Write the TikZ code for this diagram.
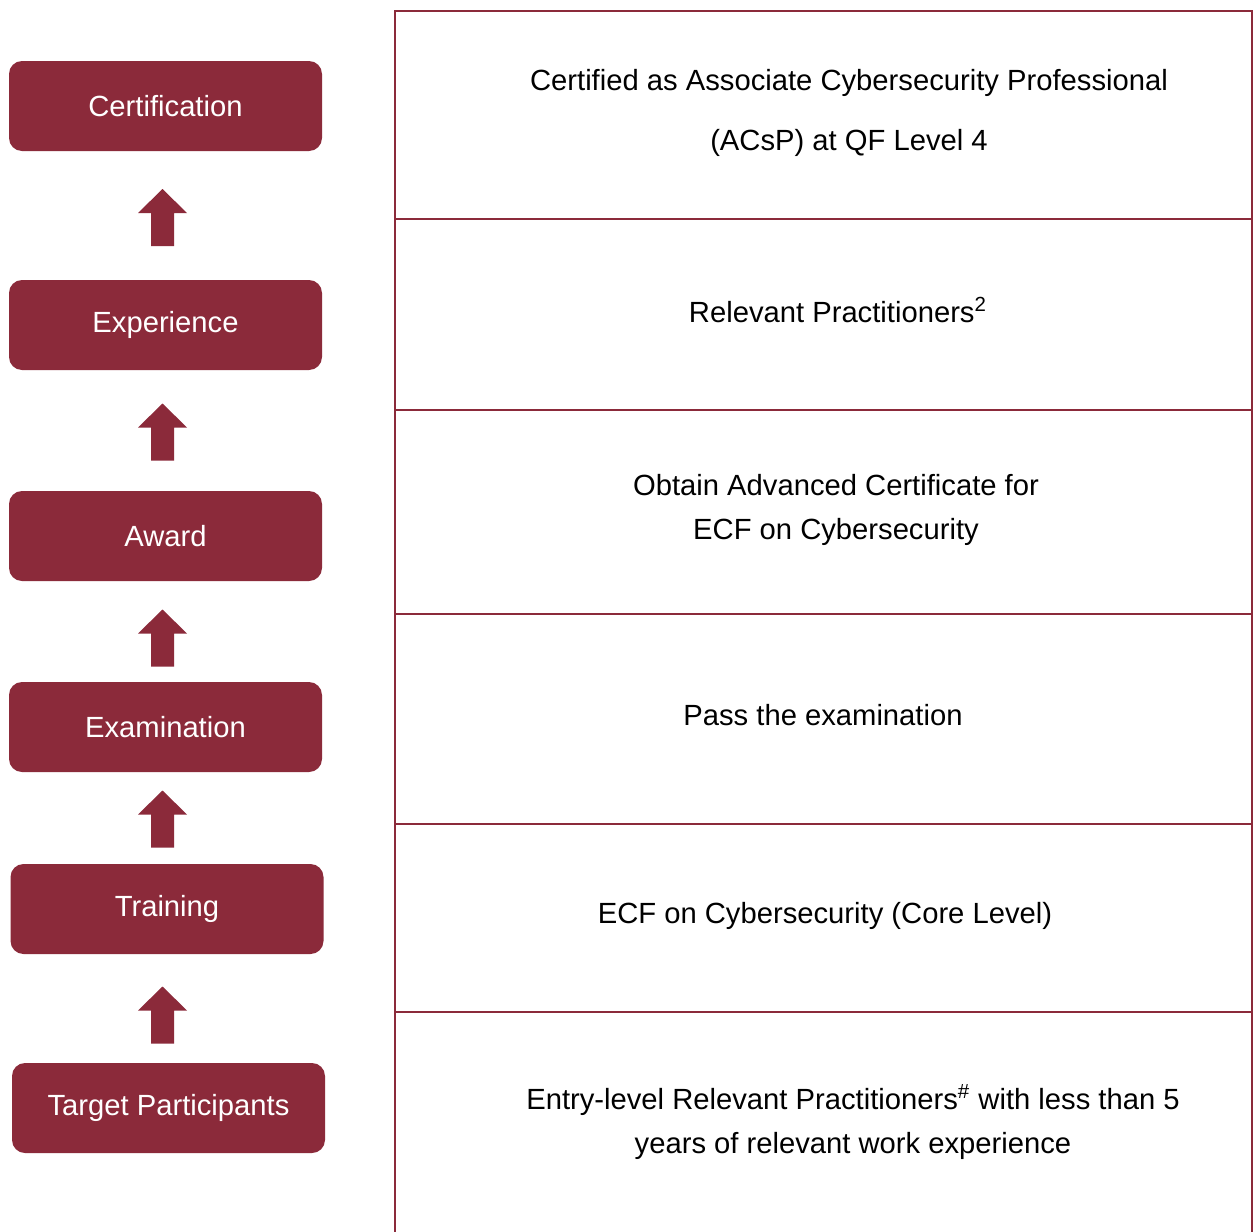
\documentclass[tikz,border=0pt]{standalone}
\usepackage{fontspec}
\setmainfont{Liberation Sans}
\usepackage{tikz}
\definecolor{cbred}{HTML}{8B2A3A}

\tikzset{
  stage/.style={fill=cbred, rounded corners=6.5pt, minimum width=156.5pt, minimum height=45pt,
    text=white, font=\fontsize{14.6}{17.5}\selectfont, inner sep=0pt},
  rowtext/.style={align=center, text=black, font=\fontsize{14.6}{17.5}\selectfont},
  upblock/.pic={\fill[cbred] (-11.5,28.5) -- (-11.5,-4.5) -- (-24.5,-4.5) -- (0,-28.5) -- (24.5,-4.5) -- (11.5,-4.5) -- (11.5,28.5) -- cycle;}
}

\begin{document}
\begin{tikzpicture}[x=0.5pt, y=-0.5pt]
\useasboundingbox (0,0) rectangle (1255,1232);
% left column
\node[stage] (cert) at (165.5,106) {Certification};
\node[stage] (exp) at (165.5,325) {Experience};
\node[stage] (award) at (165.5,536) {Award};
\node[stage] (exam) at (165.5,727) {Examination};
\node[stage] (train) at (167,909) {Training};
\node[stage] (target) at (168.5,1108) {Target Participants};
\pic at (162.5,217.5) {upblock};
\pic at (162.5,432) {upblock};
\pic at (162.5,638) {upblock};
\pic at (162.5,819) {upblock};
\pic at (162.5,1015) {upblock};
% right table
\draw[cbred, line width=1pt] (395,1232) -- (395,11) -- (1252,11) -- (1252,1232);
\foreach \y in {219,410,614,824,1012}
  \draw[cbred, line width=1pt] (395,\y) -- (1252,\y);
\node[rowtext] (t1) at (849,113) {Certified as Associate Cybersecurity Professional\\[12.5pt](ACsP) at QF Level 4};
\node[rowtext] (t2) at (838,310) {Relevant Practitioners\textsuperscript{2}};
\node[rowtext] (t3) at (836,510) {Obtain Advanced Certificate for\\[4.5pt]ECF on Cybersecurity};
\node[rowtext] (t4) at (823,715) {Pass the examination};
\node[rowtext] (t5) at (825,916) {ECF on Cybersecurity (Core Level)};
\node[rowtext] (t6) at (853,1122) {Entry-level Relevant Practitioners\textsuperscript{\#} with less than 5\\[4.5pt]years of relevant work experience};
\end{tikzpicture}
\end{document}
